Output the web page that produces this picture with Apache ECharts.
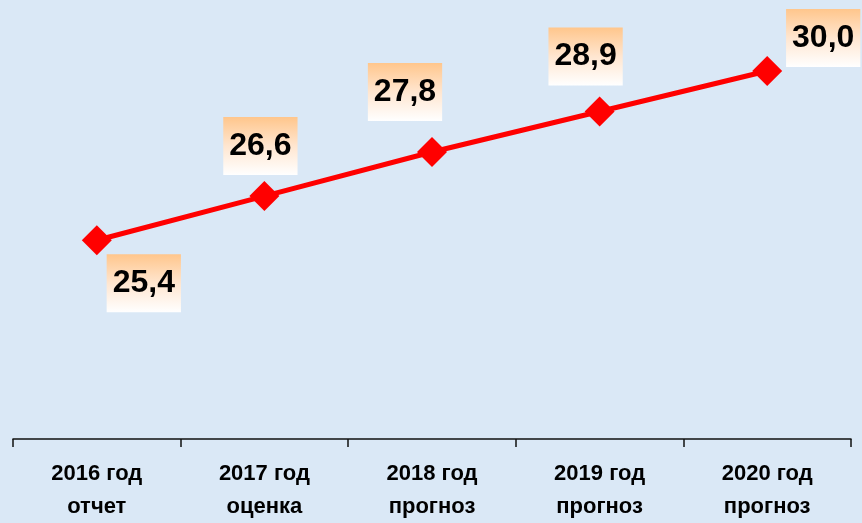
<!DOCTYPE html>
<html>
<head>
<meta charset="utf-8">
<script src="https://cdn.jsdelivr.net/npm/echarts@6/dist/echarts.min.js"></script>
<style>
html, body { margin: 0; padding: 0; background: #dae8f6; }
#chart { width: 862px; height: 523px; }
</style>
</head>
<body>
<div id="chart"></div>
<script>
var years = ['2016 год', '2017 год', '2018 год', '2019 год', '2020 год'];
var kinds = ['отчет', 'оценка', 'прогноз', 'прогноз', 'прогноз'];
var values = [25.4, 26.6, 27.8, 28.9, 30.0];
// label offsets relative to each marker
var labelShift = [[47, 43], [-4, -50], [-27, -60], [-14, -55], [56, -33]];

var boxFill = new echarts.graphic.LinearGradient(0, 0, 0, 1, [
	{ offset: 0, color: '#ffc68c' },
	{ offset: 0.5, color: '#ffe6d0' },
	{ offset: 1, color: '#ffffff' }
]);

var points = values.map(function (v, i) {
	return {
		value: v,
		label: { offset: labelShift[i] }
	};
});

var chart = echarts.init(document.getElementById('chart'));
chart.setOption({
	backgroundColor: '#dae8f6',
	animation: false,
	grid: { left: 13, right: 11, top: 71, bottom: 81 },
	xAxis: {
		type: 'category',
		data: years.map(function (y, i) { return y + '\n' + kinds[i]; }),
		boundaryGap: true,
		axisLine: { lineStyle: { color: '#111', width: 1.5 } },
		axisTick: { show: true, length: 8, lineStyle: { color: '#111', width: 1.5 } },
		axisLabel: {
			color: '#000',
			fontFamily: 'Liberation Sans, Arial, sans-serif',
			fontWeight: 'bold',
			fontSize: 22,
			lineHeight: 33,
			margin: 18,
			interval: 0
		}
	},
	yAxis: {
		type: 'value',
		min: 20,
		max: 30,
		show: false
	},
	series: [{
		type: 'line',
		data: points,
		symbol: 'diamond',
		symbolSize: 30,
		lineStyle: { color: '#ff0000', width: 5 },
		itemStyle: { color: '#ff0000' },
		label: {
			show: true,
			position: 'inside',
			formatter: function (p) { return p.value.toFixed(1).replace('.', ','); },
			color: '#000',
			fontFamily: 'Liberation Sans, Arial, sans-serif',
			fontWeight: 'bold',
			fontSize: 32,
			lineHeight: 30,
			padding: [14, 6, 14, 6],
			backgroundColor: boxFill
		}
	}]
});
</script>
</body>
</html>
